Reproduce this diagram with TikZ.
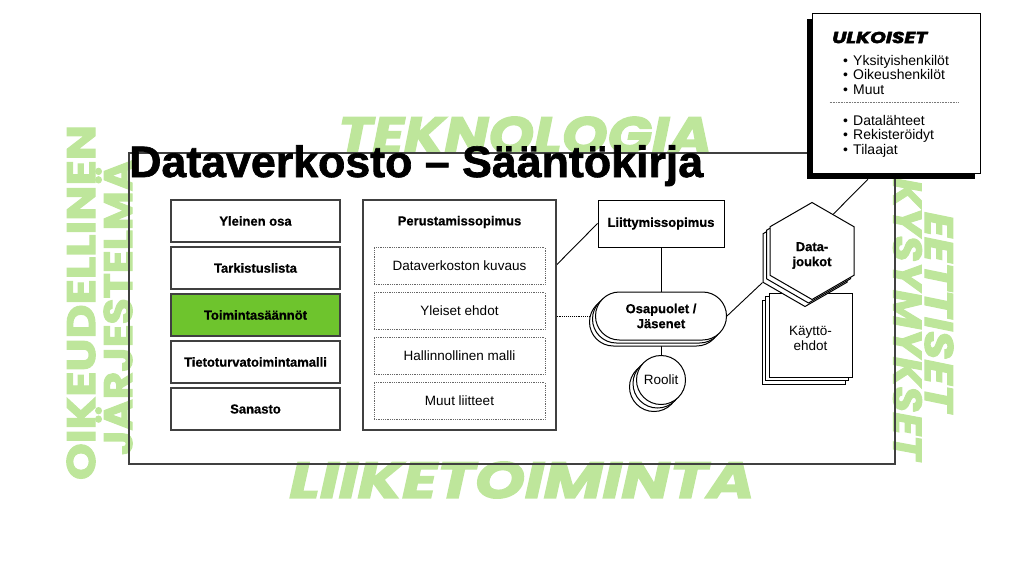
\documentclass[tikz,border=0pt]{standalone}
\usepackage{fontspec}
\setmainfont{Liberation Sans}[BoldFeatures={FakeBold=0.6}]
\newfontfamily\titlefont{Liberation Sans}[BoldFeatures={FakeBold=1.5}]
\newfontfamily\heavy{Poppins}[BoldFeatures={FakeBold=2.5}, BoldItalicFeatures={FakeBold=2.5}]
\usepackage{graphicx}
\usetikzlibrary{shapes.geometric,calc}
\pgfdeclarelayer{back}
\pgfsetlayers{back,main}
\definecolor{lgreen}{HTML}{BEE69B}
\definecolor{fgreen}{HTML}{6EC42D}
\definecolor{edge}{HTML}{404040}
\begin{document}
\begin{tikzpicture}[x=1pt,y=-1pt,
  lab/.style={font=\fontsize{13.5}{15}\selectfont},
  blab/.style={font=\bfseries\fontsize{13}{15}\selectfont},
  lbox/.style={draw=edge, line width=1.2pt, fill=white, minimum width=169pt, minimum height=42pt, inner sep=0pt, blab},
  dbox/.style={draw=edge!80, densely dotted, line width=0.8pt, fill=white, minimum width=171pt, minimum height=37pt, inner sep=0pt, lab},
  stad/.style={draw=black, line width=1pt, fill=white, rectangle, rounded corners=23.9pt, minimum width=131pt, minimum height=48pt, inner sep=0pt, align=center, blab},
  circ/.style={draw=black, line width=1pt, fill=white, circle, minimum size=49pt, inner sep=0pt, lab},
  hexa/.style={draw=black, line width=1pt, fill=white, regular polygon, regular polygon sides=6, shape border rotate=30, minimum size=97pt, inner sep=0pt},
  sqbox/.style={draw=black, line width=1pt, fill=white, minimum width=83pt, minimum height=84pt, inner sep=0pt},
  gtext/.style={text=lgreen, inner sep=0pt},
  ulist/.style={anchor=base west, inner sep=0pt, font=\fontsize{14}{16}\selectfont},
  conn/.style={draw=black, line width=0.9pt},
]
\useasboundingbox (0,0) rectangle (1024,576);

% title
\node[anchor=base west, inner sep=0pt] (title) at (129,177) {\resizebox{574pt}{\height}{\titlefont\bfseries\fontsize{44}{44}\selectfont Dataverkosto – Sääntökirja}};

% left column
\node[lbox] (yo) at (255.5,221) {Yleinen osa};
\node[lbox] (tl) at (255.5,268) {Tarkistuslista};
\node[lbox, fill=fgreen] (ts) at (255.5,315) {Toimintasäännöt};
\node[lbox] (tt) at (255.5,362) {Tietoturvatoimintamalli};
\node[lbox] (sa) at (255.5,409) {Sanasto};

% Perustamissopimus
\node[draw=edge, line width=1.2pt, fill=white, minimum width=193pt, minimum height=230pt, inner sep=0pt] (perus) at (459.5,315) {};
\node[blab] (perusT) at (459.5,222) {Perustamissopimus};
\node[dbox] (d1) at (459.5,266) {Dataverkoston kuvaus};
\node[dbox] (d2) at (459.5,311) {Yleiset ehdot};
\node[dbox] (d3) at (459.5,356) {Hallinnollinen malli};
\node[dbox] (d4) at (459.5,401) {Muut liitteet};

% Liittymissopimus
\node[draw=black, line width=1pt, fill=white, minimum width=126pt, minimum height=47pt, inner sep=0pt, blab] (liitt) at (661,223.5) {Liittymissopimus};

% Osapuolet stack
\node[stad] (osaC) at (655,322) {};
\node[stad] (osaB) at (658,319) {};
\node[stad] (osa) at (661,316) {Osapuolet /\\Jäsenet};

% Roolit stack
\node[circ] (rolC) at (654,387) {};
\node[circ] (rolB) at (657.5,383.5) {};
\node[circ] (rol) at (661,380) {Roolit};

% Kayttoehdot stack
\node[sqbox] (kayC) at (803.5,342) {};
\node[sqbox] (kayB) at (807,338.5) {};
\node[sqbox] (kay) at (810.5,335) {};
\node[lab, align=center, inner sep=0pt] (kayT) at ($(kay.center)+(0,3.5)$) {Käyttö-\\ehdot};

% Datajoukot stack
\node[hexa] (dataC) at (805,258) {};
\node[hexa] (dataB) at (808.5,254.5) {};
\node[hexa] (data) at (812,251) {};
\node[blab, align=center, inner sep=0pt] (dataT) at ($(data.center)+(0,4.5)$) {Data-\\joukot};

% ULKOISET
\node[fill=black, minimum width=168pt, minimum height=160pt, inner sep=0pt] (ulkS) at (891,99) {};
\node[draw=black, line width=1pt, fill=white, minimum width=168pt, minimum height=160pt, inner sep=0pt] (ulk) at (896,93) {};
\node[anchor=west, inner sep=0pt] (ut) at (832,37.5) {\resizebox{95pt}{\height}{\heavy\bfseries\itshape\fontsize{16}{16}\selectfont ULKOISET}};
\node[ulist] (u1) at (843,65) {\makebox[10pt][l]{\textbullet}Yksityishenkilöt};
\node[ulist] (u2) at (843,79.5) {\makebox[10pt][l]{\textbullet}Oikeushenkilöt};
\node[ulist] (u3) at (843,94) {\makebox[10pt][l]{\textbullet}Muut};
\draw[densely dotted, edge!70, line width=0.6pt] ($(ulk.north west)+(18,90)$) -- ($(ulk.north east)+(-22,90)$);
\node[ulist] (u4) at (843,125) {\makebox[10pt][l]{\textbullet}Datalähteet};
\node[ulist] (u5) at (843,139.5) {\makebox[10pt][l]{\textbullet}Rekisteröidyt};
\node[ulist] (u6) at (843,154) {\makebox[10pt][l]{\textbullet}Tilaajat};

\begin{pgfonlayer}{back}
  % green background words
  \node[gtext] (tek) at (525,135) {\resizebox{374pt}{\height}{\heavy\bfseries\itshape\fontsize{51}{51}\selectfont TEKNOLOGIA}};
  \node[gtext] (lii) at (522,480) {\resizebox{465pt}{\height}{\heavy\bfseries\itshape\fontsize{51}{51}\selectfont LIIKETOIMINTA}};
  \node[gtext, rotate=90] (oik) at (81,302.5) {\resizebox{355pt}{\height}{\heavy\bfseries\fontsize{40}{40}\selectfont OIKEUDELLINEN}};
  \node[gtext, rotate=90] (jar) at (114,307.5) {\resizebox{295pt}{\height}{\heavy\bfseries\fontsize{40}{40}\selectfont JÄRJESTELMÄ}};
  \node[gtext, rotate=-90] (kys) at (907.5,319) {\resizebox{282pt}{\height}{\heavy\bfseries\itshape\fontsize{40}{40}\selectfont KYSYMYKSET}};
  \node[gtext, rotate=-90] (eet) at (939,312) {\resizebox{200pt}{\height}{\heavy\bfseries\itshape\fontsize{40}{40}\selectfont EETTISET}};
  % frame
  \node[draw=edge, line width=1.2pt, minimum width=766pt, minimum height=311pt, inner sep=0pt] (frame) at (512,308.5) {};
  % connectors
  \draw[conn] ($(perus.north east)!0.283!(perus.south east)$) -- (liitt.west);
  \draw[conn] (liitt.south) -- (osa.north);
  \draw[conn, densely dotted, line width=0.7pt] (perus.east |- osa.west) -- (osa.west);
  \draw[conn] (osa.south) -- (rol.north);
  \draw[conn] (osa.east) -- (dataC.210);
  \draw[conn] ($(data.90)!0.5!(data.30)$) -- ($(ulkS.south west)!0.363!(ulkS.south east)$);
\end{pgfonlayer}
\end{tikzpicture}
\end{document}
